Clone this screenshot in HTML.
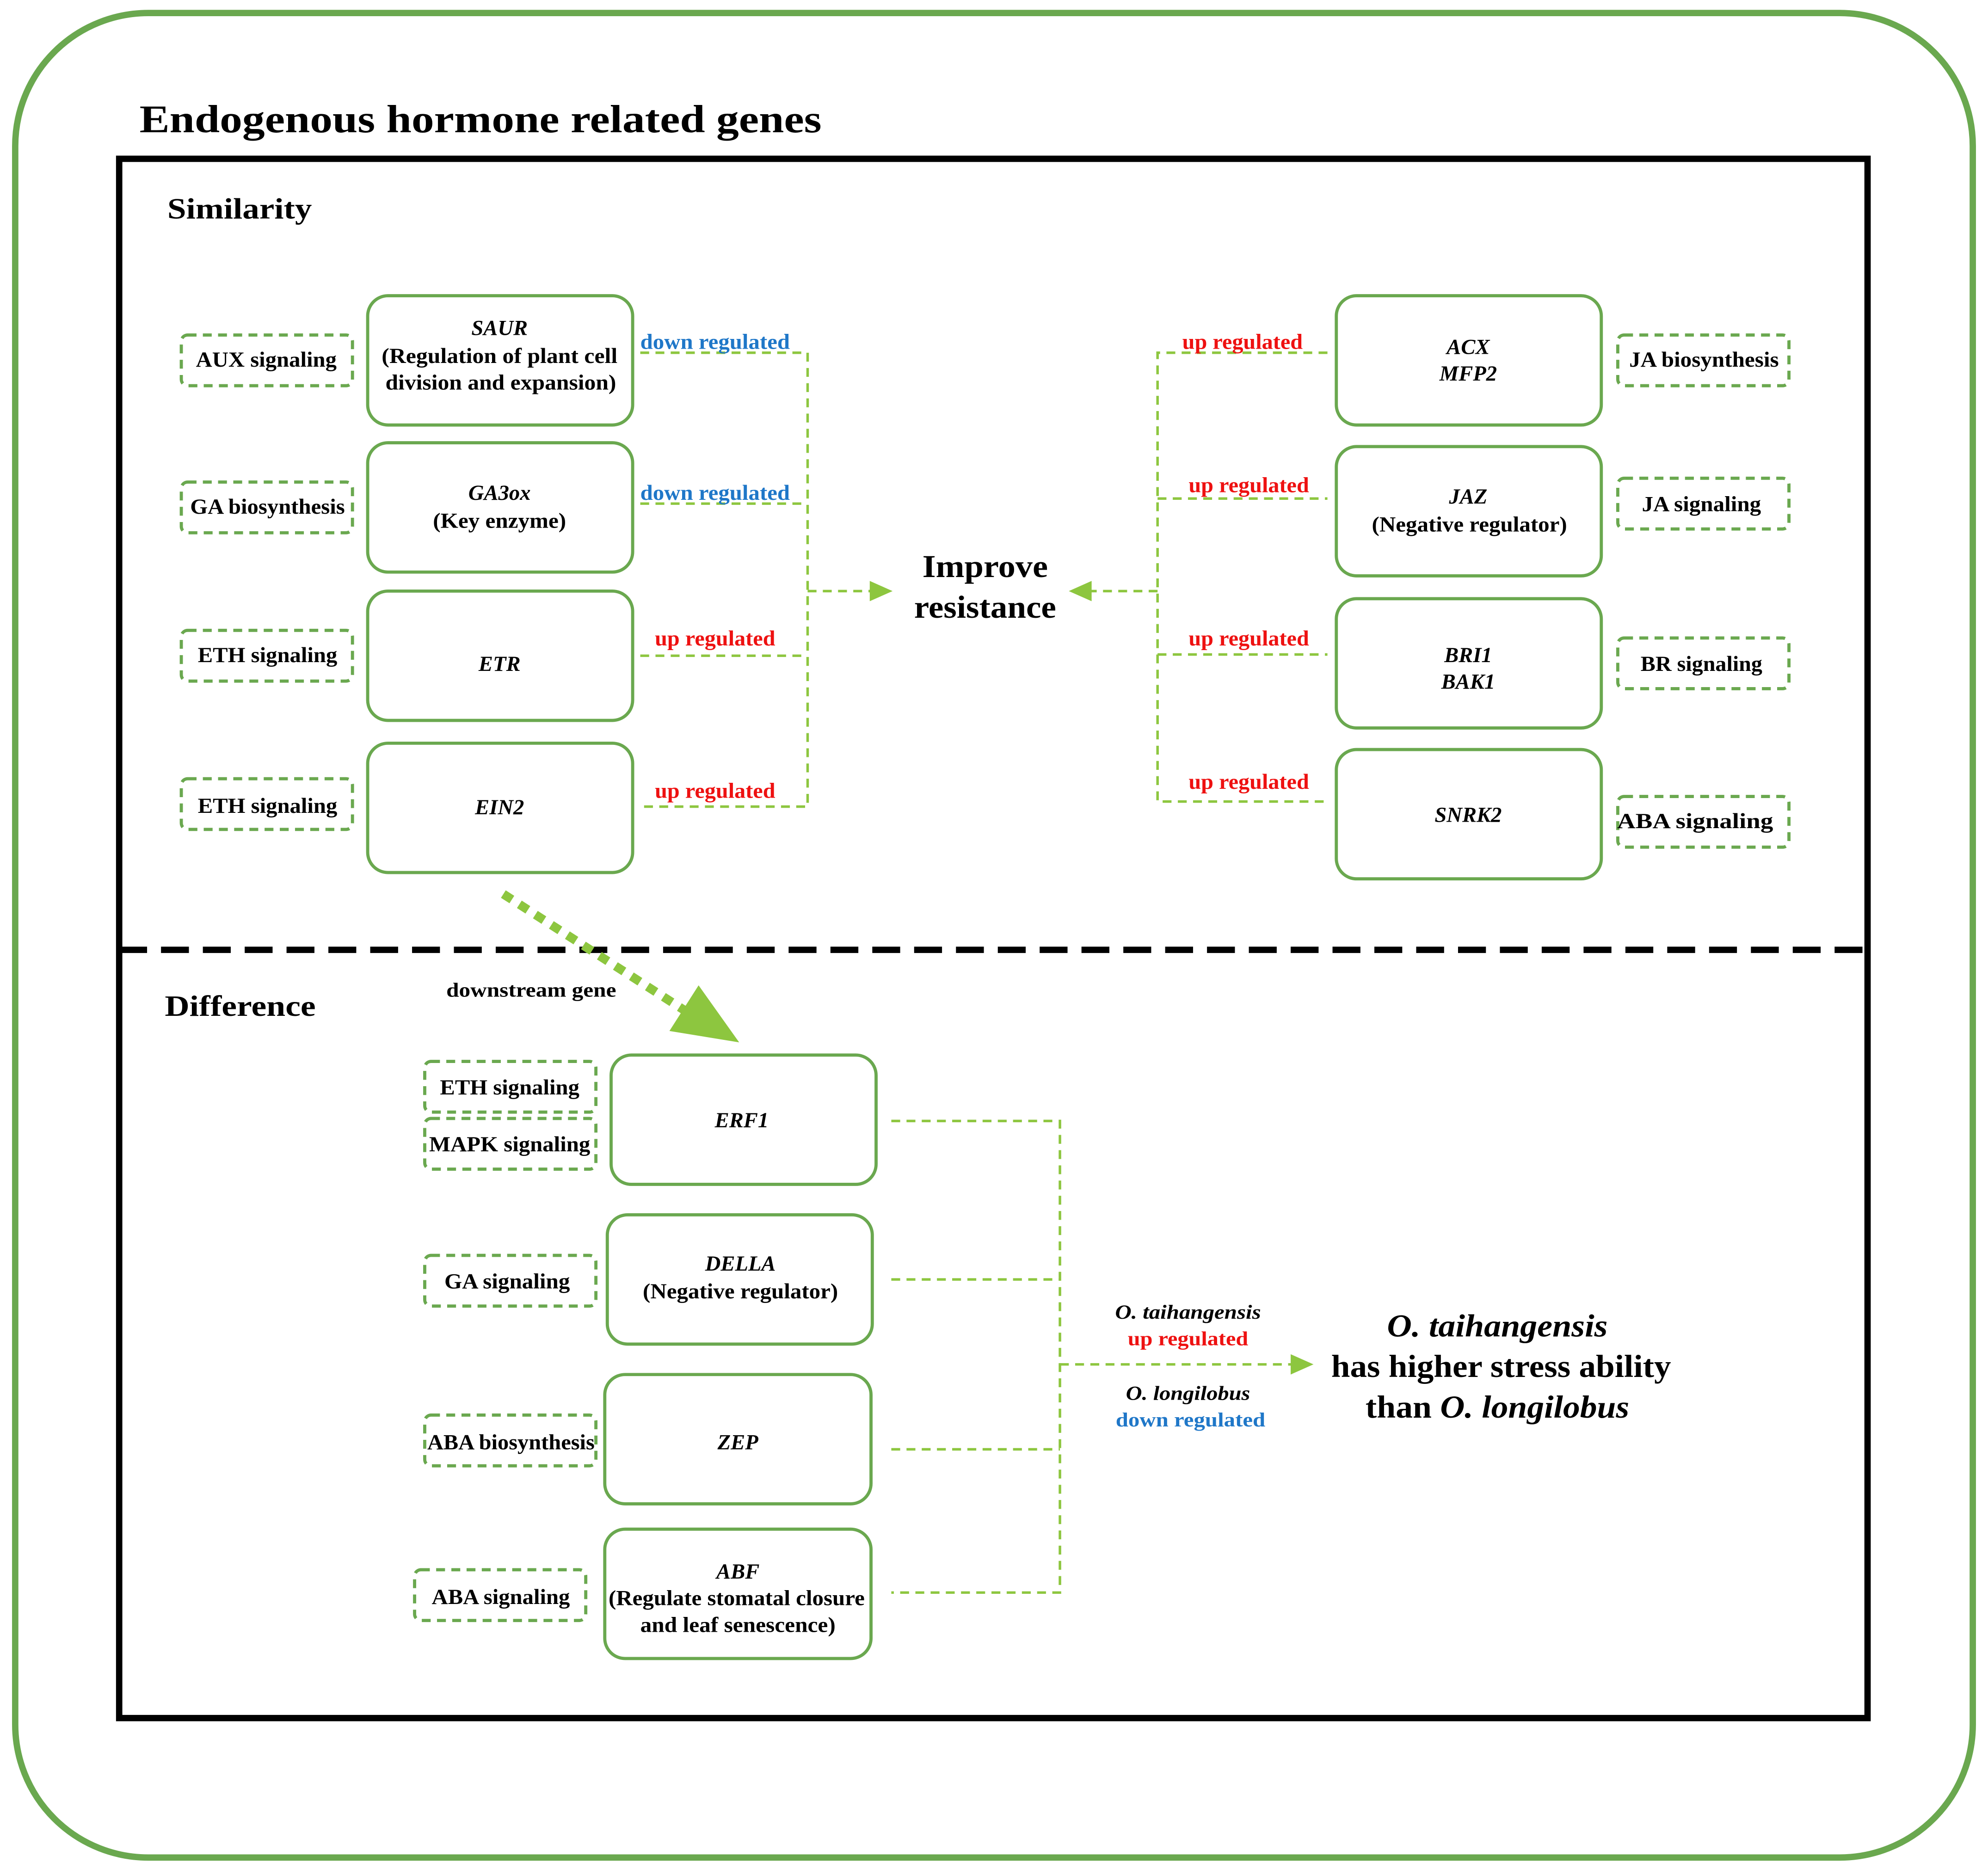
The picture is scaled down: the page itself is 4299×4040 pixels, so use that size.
<!DOCTYPE html>
<html><head><meta charset="utf-8"><style>
html,body{margin:0;padding:0;background:#fff;}
svg{display:block;}
text{font-family:"Liberation Serif",serif;font-weight:bold;}
</style></head><body>
<svg width="4299" height="4040" viewBox="0 0 1568 1473" xmlns="http://www.w3.org/2000/svg">
<defs>
<marker id="ah" viewBox="0 0 10 10" refX="9" refY="5" markerWidth="5" markerHeight="5" orient="auto" markerUnits="userSpaceOnUse">
</marker>
</defs>
<rect x="0" y="0" width="1568" height="1473" fill="#fff"/>
<rect x="12" y="10" width="1544" height="1455" rx="105" ry="105" fill="none" stroke="#6aa84f" stroke-width="5"/>
<text x="110" y="104" font-size="31" textLength="538" lengthAdjust="spacingAndGlyphs">Endogenous hormone related genes</text>
<rect x="94" y="125" width="1379" height="1230" fill="none" stroke="#000" stroke-width="5"/>
<line x1="94" y1="749" x2="1473" y2="749" stroke="#000" stroke-width="5" stroke-dasharray="22,11"/>
<text x="132" y="172" font-size="23" textLength="114" lengthAdjust="spacingAndGlyphs">Similarity</text>
<text x="130" y="801" font-size="23" textLength="119" lengthAdjust="spacingAndGlyphs">Difference</text>

<g fill="none" stroke="#6aa84f" stroke-width="2.5">
<!-- left gene boxes -->
<rect x="290" y="233" width="209" height="102" rx="16"/>
<rect x="290" y="349" width="209" height="102" rx="16"/>
<rect x="290" y="466" width="209" height="102" rx="16"/>
<rect x="290" y="586" width="209" height="102" rx="16"/>
<!-- right gene boxes -->
<rect x="1054" y="233" width="209" height="102" rx="16"/>
<rect x="1054" y="352" width="209" height="102" rx="16"/>
<rect x="1054" y="472" width="209" height="102" rx="16"/>
<rect x="1054" y="591" width="209" height="102" rx="16"/>
<!-- difference boxes -->
<rect x="482" y="832" width="209" height="102" rx="16"/>
<rect x="479" y="958" width="209" height="102" rx="16"/>
<rect x="477" y="1084" width="210" height="102" rx="16"/>
<rect x="477" y="1206" width="210" height="102" rx="16"/>
</g>

<g fill="none" stroke="#6aa84f" stroke-width="2.5" stroke-dasharray="7,5">
<rect x="143" y="264" width="135" height="40" rx="5"/>
<rect x="143" y="380" width="135" height="40" rx="5"/>
<rect x="143" y="497" width="135" height="40" rx="5"/>
<rect x="143" y="614" width="135" height="40" rx="5"/>
<rect x="1276" y="264" width="135" height="40" rx="5"/>
<rect x="1276" y="377" width="135" height="40" rx="5"/>
<rect x="1276" y="503" width="135" height="40" rx="5"/>
<rect x="1276" y="628" width="135" height="40" rx="5"/>
<rect x="335" y="837" width="135" height="40" rx="5"/>
<rect x="335" y="882" width="135" height="40" rx="5"/>
<rect x="335" y="990" width="135" height="40" rx="5"/>
<rect x="335" y="1116" width="135" height="40" rx="5"/>
<rect x="327" y="1238" width="135" height="40" rx="5"/>
</g>

<g fill="none" stroke="#8dc63f" stroke-width="2" stroke-dasharray="7,5">
<polyline points="505,278 637,278 637,636 505,636"/>
<line x1="505" y1="397" x2="637" y2="397"/>
<line x1="505" y1="517" x2="637" y2="517"/>
<line x1="637" y1="466" x2="690" y2="466"/>
<polyline points="1047,278 913,278 913,632 1047,632"/>
<line x1="913" y1="393" x2="1047" y2="393"/>
<line x1="913" y1="516" x2="1047" y2="516"/>
<line x1="913" y1="466" x2="857" y2="466"/>
<polyline points="703,884 836,884 836,1256 703,1256"/>
<line x1="703" y1="1009" x2="836" y2="1009"/>
<line x1="703" y1="1143" x2="836" y2="1143"/>
<line x1="836" y1="1076" x2="1022" y2="1076"/>
</g>
<g fill="#8dc63f">
<polygon points="704,466 686,458 686,474"/>
<polygon points="843,466 861,458 861,474"/>
<polygon points="1036,1076 1018,1068 1018,1084"/>
<polygon points="583,822 528,813 551,777"/>
</g>
<line x1="397" y1="705" x2="545" y2="800" stroke="#8dc63f" stroke-width="7" stroke-dasharray="8,7"/>

<g font-size="17" text-anchor="middle" fill="#000">
<text x="210" y="289" textLength="111" lengthAdjust="spacingAndGlyphs">AUX signaling</text>
<text x="211" y="405" textLength="122" lengthAdjust="spacingAndGlyphs">GA biosynthesis</text>
<text x="211" y="522" textLength="110" lengthAdjust="spacingAndGlyphs">ETH signaling</text>
<text x="211" y="641" textLength="110" lengthAdjust="spacingAndGlyphs">ETH signaling</text>
<text x="1344" y="289" textLength="118" lengthAdjust="spacingAndGlyphs">JA biosynthesis</text>
<text x="1342" y="403" textLength="94" lengthAdjust="spacingAndGlyphs">JA signaling</text>
<text x="1342" y="529" textLength="96" lengthAdjust="spacingAndGlyphs">BR signaling</text>
<text x="1337" y="653" textLength="123" lengthAdjust="spacingAndGlyphs">ABA signaling</text>
<text x="402" y="863" textLength="110" lengthAdjust="spacingAndGlyphs">ETH signaling</text>
<text x="402" y="908" textLength="127" lengthAdjust="spacingAndGlyphs">MAPK signaling</text>
<text x="400" y="1016" textLength="99" lengthAdjust="spacingAndGlyphs">GA signaling</text>
<text x="403" y="1143" textLength="132" lengthAdjust="spacingAndGlyphs">ABA biosynthesis</text>
<text x="395" y="1265" textLength="109" lengthAdjust="spacingAndGlyphs">ABA signaling</text>

<text x="394" y="264" font-style="italic">SAUR</text>
<text x="394" y="286" textLength="186" lengthAdjust="spacingAndGlyphs">(Regulation of plant cell</text>
<text x="395" y="307" textLength="182" lengthAdjust="spacingAndGlyphs">division and expansion)</text>
<text x="394" y="394" font-style="italic">GA3ox</text>
<text x="394" y="416" textLength="105" lengthAdjust="spacingAndGlyphs">(Key enzyme)</text>
<text x="394" y="529" font-style="italic">ETR</text>
<text x="394" y="642" font-style="italic">EIN2</text>
<text x="1158" y="279" font-style="italic">ACX</text>
<text x="1158" y="300" font-style="italic">MFP2</text>
<text x="1158" y="397" font-style="italic">JAZ</text>
<text x="1159" y="419" textLength="154" lengthAdjust="spacingAndGlyphs">(Negative regulator)</text>
<text x="1158" y="522" font-style="italic">BRI1</text>
<text x="1158" y="543" font-style="italic">BAK1</text>
<text x="1158" y="648" font-style="italic">SNRK2</text>
<text x="585" y="889" font-style="italic">ERF1</text>
<text x="584" y="1002" font-style="italic">DELLA</text>
<text x="584" y="1024" textLength="154" lengthAdjust="spacingAndGlyphs">(Negative regulator)</text>
<text x="582" y="1143" font-style="italic">ZEP</text>
<text x="582" y="1245" font-style="italic">ABF</text>
<text x="581" y="1266" textLength="202" lengthAdjust="spacingAndGlyphs">(Regulate stomatal closure</text>
<text x="582" y="1287" textLength="154" lengthAdjust="spacingAndGlyphs">and leaf senescence)</text>

<text x="564" y="275" fill="#1f77c8" textLength="118" lengthAdjust="spacingAndGlyphs">down regulated</text>
<text x="564" y="394" fill="#1f77c8" textLength="118" lengthAdjust="spacingAndGlyphs">down regulated</text>
<text x="564" y="509" fill="#ee1111" textLength="95" lengthAdjust="spacingAndGlyphs">up regulated</text>
<text x="564" y="629" fill="#ee1111" textLength="95" lengthAdjust="spacingAndGlyphs">up regulated</text>
<text x="980" y="275" fill="#ee1111" textLength="95" lengthAdjust="spacingAndGlyphs">up regulated</text>
<text x="985" y="388" fill="#ee1111" textLength="95" lengthAdjust="spacingAndGlyphs">up regulated</text>
<text x="985" y="509" fill="#ee1111" textLength="95" lengthAdjust="spacingAndGlyphs">up regulated</text>
<text x="985" y="622" fill="#ee1111" textLength="95" lengthAdjust="spacingAndGlyphs">up regulated</text>

<text x="419" y="786" font-size="16" textLength="134" lengthAdjust="spacingAndGlyphs">downstream gene</text>
<text x="937" y="1040" font-size="16" font-style="italic" textLength="115" lengthAdjust="spacingAndGlyphs">O. taihangensis</text>
<text x="937" y="1061" font-size="16" fill="#ee1111" textLength="95" lengthAdjust="spacingAndGlyphs">up regulated</text>
<text x="937" y="1104" font-size="16" font-style="italic" textLength="98" lengthAdjust="spacingAndGlyphs">O. longilobus</text>
<text x="939" y="1125" font-size="16" fill="#1f77c8" textLength="118" lengthAdjust="spacingAndGlyphs">down regulated</text>
</g>
<g font-size="25" text-anchor="middle" fill="#000">
<text x="777" y="455" textLength="99" lengthAdjust="spacingAndGlyphs">Improve</text>
<text x="777" y="487" textLength="112" lengthAdjust="spacingAndGlyphs">resistance</text>
<text x="1181" y="1054" font-style="italic" textLength="174" lengthAdjust="spacingAndGlyphs">O. taihangensis</text>
<text x="1184" y="1086" textLength="268" lengthAdjust="spacingAndGlyphs">has higher stress ability</text>
<text x="1181" y="1118" textLength="208" lengthAdjust="spacingAndGlyphs">than <tspan font-style="italic">O. longilobus</tspan></text>
</g>
</svg>
</body></html>
